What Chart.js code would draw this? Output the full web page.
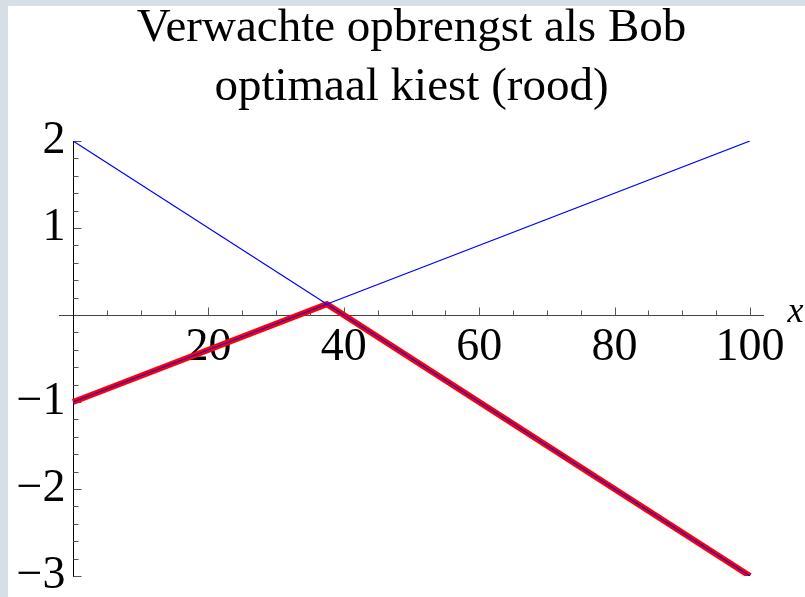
<!DOCTYPE html>
<html>
<head>
<meta charset="utf-8">
<script src="https://cdn.jsdelivr.net/npm/chart.js@4.4.1/dist/chart.umd.min.js"></script>
<style>
  html, body { margin: 0; padding: 0; background: #d6dfe5; }
  #wrap { position: absolute; left: 8px; top: 6px; width: 797px; height: 591px; background: #fff; }
  canvas { display: block; }
</style>
</head>
<body>
<div id="wrap"><canvas id="myChart" width="797" height="591"></canvas></div>
<script>
// line end points
const xEnds = [0, 100];
const blueDown = [2, -3];          // falling blue line
const blueUp = [-1, 2];            // rising blue line
const redX = [0, 37.5, 100];       // optimal choice (red), kink where the blue lines cross
const redY = [-1, 0.125, -3];

// ticks
const xTicks = [5, 10, 15, 20, 25, 30, 35, 40, 45, 50, 55, 60, 65, 70, 75, 80, 85, 90, 95, 100];
const xLabels = [20, 40, 60, 80, 100];
const yTicks = [-3, -2.8, -2.6, -2.4, -2.2, -2, -1.8, -1.6, -1.4, -1.2, -1, -0.8, -0.6, -0.4, -0.2,
                0.2, 0.4, 0.6, 0.8, 1, 1.2, 1.4, 1.6, 1.8, 2];
const yLabels = [-3, -2, -1, 1, 2];

const titleLines = ['Verwachte opbrengst als Bob', 'optimaal kiest (rood)'];
const serif = '"Liberation Serif", "Times New Roman", serif';

function pts(xs, ys) {
    return xs.map((x, i) => ({x: x, y: ys[i]}));
}
function isLabel(list, v) {
    return list.some(l => Math.abs(l - v) < 1e-6);
}

// small tick marks pointing into the plot + the italic x at the end of the axis
const axisDecor = {
    id: 'axisDecor',
    beforeDatasetsDraw(chart) {
        const ctx = chart.ctx;
        const xs = chart.scales.x, ys = chart.scales.y;
        const x0 = Math.round(xs.getPixelForValue(0)) + 0.5;
        const y0 = Math.round(ys.getPixelForValue(0)) + 0.5;
        ctx.save();
        ctx.strokeStyle = '#555';
        ctx.lineWidth = 1;
        ctx.beginPath();
        xs.ticks.forEach(t => {
            const px = Math.round(xs.getPixelForValue(t.value)) + 0.5;
            const len = isLabel(xLabels, t.value) ? 8 : 5;
            ctx.moveTo(px, y0);
            ctx.lineTo(px, y0 - len);
        });
        ys.ticks.forEach(t => {
            const py = Math.round(ys.getPixelForValue(t.value)) + 0.5;
            const len = isLabel(yLabels, t.value) ? 8 : 5;
            ctx.moveTo(x0, py);
            ctx.lineTo(x0 + len, py);
        });
        ctx.stroke();
        ctx.restore();
    },
    afterDraw(chart) {
        const ctx = chart.ctx;
        const xs = chart.scales.x, ys = chart.scales.y;
        ctx.save();
        ctx.fillStyle = '#000';
        ctx.font = 'italic 36px ' + serif;
        ctx.textBaseline = 'alphabetic';
        ctx.fillText('x', xs.right + 24, ys.getPixelForValue(0) + 7);
        ctx.restore();
    }
};

const ctx = document.getElementById('myChart');
const myChart = new Chart(ctx, {
    type: 'scatter',
    data: {
        datasets: [{
            data: pts(xEnds, blueDown),
            showLine: true,
            borderColor: '#0000ff',
            borderWidth: 1.2,
            pointRadius: 0
        }, {
            data: pts(xEnds, blueUp),
            showLine: true,
            borderColor: '#0000ff',
            borderWidth: 1.2,
            pointRadius: 0
        }, {
            data: pts(redX, redY),
            showLine: true,
            borderColor: '#ff0000',
            borderWidth: 6,
            pointRadius: 0
        }]
    },
    options: {
        responsive: false,
        animation: false,
        layout: {
            padding: {left: 51.5, right: 41.5, top: 0, bottom: 21}
        },
        scales: {
            x: {
                type: 'linear',
                min: -2,
                max: 102,
                position: {y: 0},
                afterBuildTicks: s => { s.ticks = xTicks.map(v => ({value: v})); },
                grid: {drawOnChartArea: false, drawTicks: false},
                border: {display: true, color: '#444', width: 1},
                ticks: {
                    autoSkip: false,
                    maxRotation: 0,
                    padding: 5,
                    color: '#000',
                    font: {family: serif, size: 46, lineHeight: 1.2},
                    callback: v => isLabel(xLabels, v) ? String(v) : ''
                }
            },
            y: {
                type: 'linear',
                min: -3,
                max: 2,
                position: {x: 0},
                afterBuildTicks: s => { s.ticks = yTicks.map(v => ({value: v})); },
                grid: {drawOnChartArea: false, drawTicks: false},
                border: {display: true, color: '#000', width: 1},
                ticks: {
                    autoSkip: false,
                    padding: 0,
                    color: '#000',
                    font: {family: serif, size: 46, lineHeight: 0.8},
                    callback: v => {
                        if (!isLabel(yLabels, v)) return '';
                        const n = Math.round(v);
                        return (n < 0 ? '\u2212' + (-n) : String(n)) + '\u2006';
                    }
                }
            }
        },
        plugins: {
            legend: {display: false},
            tooltip: {enabled: false},
            title: {
                display: true,
                text: titleLines,
                color: '#000',
                font: {family: serif, size: 47, weight: 'normal', lineHeight: 59 / 47},
                padding: {top: -7, bottom: 24}
            }
        }
    },
    plugins: [axisDecor]
});
</script>
</body>
</html>
